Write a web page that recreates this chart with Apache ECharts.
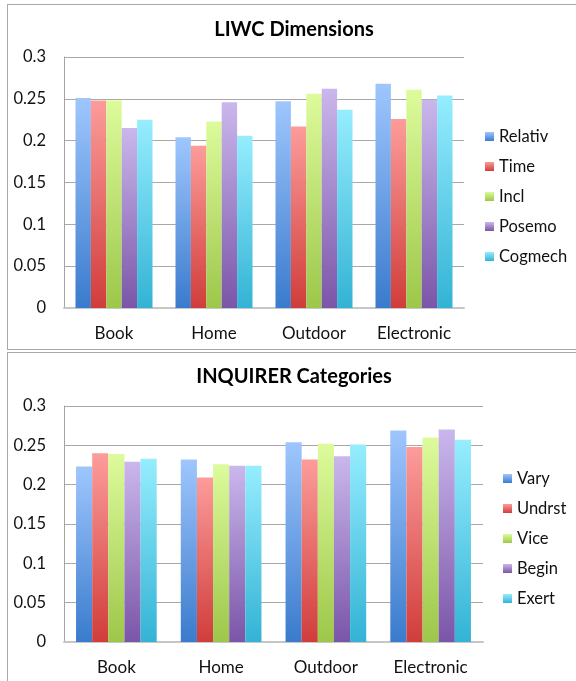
<!DOCTYPE html>
<html>
<head>
<meta charset="utf-8">
<script src="https://cdn.jsdelivr.net/npm/echarts@6/dist/echarts.min.js"></script>
<style>
  html, body { margin: 0; padding: 0; background: #fff; overflow: hidden; }
  .panel { position: absolute; border: 1px solid #a9a9a9; box-sizing: border-box; }
  #p1 { left: 7px; top: 4px; width: 600px; height: 346px; }
  #p2 { left: 7px; top: 352px; width: 600px; height: 360px; }
  #chart { position: absolute; left: 0; top: 0; width: 576px; height: 681px; }
</style>
</head>
<body>
<div class="panel" id="p1"></div>
<div class="panel" id="p2"></div>
<div id="chart"></div>
<script>
// Product categories shared by both panels
const categories = ['Book', 'Home', 'Outdoor', 'Electronic'];
const yTickLabels = ['0', '0.05', '0.1', '0.15', '0.2', '0.25', '0.3'];

// LIWC dimensions
const liwcTitle = 'LIWC Dimensions';
const liwcNames = ['Relativ', 'Time', 'Incl', 'Posemo', 'Cogmech'];
const relativ = [0.251, 0.204, 0.247, 0.268];
const time    = [0.248, 0.194, 0.217, 0.226];
const incl    = [0.248, 0.223, 0.256, 0.261];
const posemo  = [0.215, 0.246, 0.262, 0.249];
const cogmech = [0.225, 0.206, 0.237, 0.254];

// INQUIRER categories
const inqTitle = 'INQUIRER Categories';
const inqNames = ['Vary', 'Undrst', 'Vice', 'Begin', 'Exert'];
const vary   = [0.223, 0.232, 0.254, 0.269];
const undrst = [0.240, 0.209, 0.232, 0.248];
const vice   = [0.239, 0.226, 0.252, 0.260];
const begin  = [0.229, 0.224, 0.236, 0.270];
const exert  = [0.233, 0.224, 0.251, 0.257];

// Light-to-dark vertical fills, one per series position
const fills = [
  ['#9fc6fd', '#3a7bcd'],
  ['#fc9c9a', '#d03d3b'],
  ['#ddfb9b', '#9dc74a'],
  ['#cab7ec', '#7b55a8'],
  ['#96edfe', '#33b3d5']
];
const FONT = 'Lato, "Liberation Sans", sans-serif';

function gradient(i) {
  return new echarts.graphic.LinearGradient(0, 0, 0, 1, [
    { offset: 0, color: fills[i][0] },
    { offset: 1, color: fills[i][1] }
  ]);
}

function barSeries(names, values, axis) {
  return names.map((name, i) => ({
    type: 'bar',
    name: name,
    xAxisIndex: axis,
    yAxisIndex: axis,
    data: values[i],
    barGap: '0%',
    barCategoryGap: '23%',
    itemStyle: { color: gradient(i) },
    emphasis: { disabled: true }
  }));
}

function xAxis(grid) {
  return {
    type: 'category',
    gridIndex: grid,
    data: categories,
    axisLine: { show: true, lineStyle: { color: '#c6c6c6', width: 2 } },
    axisTick: { show: false },
    axisLabel: { fontSize: 17, color: '#111', margin: 17, fontFamily: FONT }
  };
}

function yAxis(grid) {
  return {
    type: 'value',
    gridIndex: grid,
    min: 0,
    max: 0.3,
    interval: 0.05,
    axisLine: { show: true, lineStyle: { color: '#a4a4a4', width: 1 } },
    axisTick: { show: false },
    splitLine: { lineStyle: { color: '#a8a8a8', width: 1 } },
    axisLabel: {
      fontSize: 16.5, color: '#111', margin: 18, fontFamily: FONT,
      formatter: (v) => yTickLabels[Math.round(v / 0.05)]
    }
  };
}

function legend(names, left, top) {
  return {
    orient: 'vertical',
    left: left,
    top: top,
    padding: 0,
    data: names,
    icon: 'rect',
    itemWidth: 9,
    itemHeight: 9,
    itemGap: 13,
    selectedMode: false,
    textStyle: { fontSize: 16.5, lineHeight: 17, color: '#111', fontFamily: FONT, padding: [0, 0, 0, 0] }
  };
}

const chart = echarts.init(document.getElementById('chart'), null, { renderer: 'canvas' });
chart.setOption({
  animation: false,
  backgroundColor: 'transparent',
  title: [
    { text: liwcTitle, left: 294, top: 20, padding: 0, textAlign: 'center',
      textStyle: { fontSize: 20, fontWeight: 'bold', color: '#000', fontFamily: FONT } },
    { text: inqTitle, left: 294, top: 367, padding: 0, textAlign: 'center',
      textStyle: { fontSize: 20, fontWeight: 'bold', color: '#000', fontFamily: FONT } }
  ],
  legend: [
    legend(liwcNames, 485, 128),
    legend(inqNames, 503, 470)
  ],
  grid: [
    { left: 64, top: 57, width: 400, height: 251 },
    { left: 64, top: 406, width: 419, height: 236 }
  ],
  xAxis: [xAxis(0), xAxis(1)],
  yAxis: [yAxis(0), yAxis(1)],
  series: [
    ...barSeries(liwcNames, [relativ, time, incl, posemo, cogmech], 0),
    ...barSeries(inqNames, [vary, undrst, vice, begin, exert], 1)
  ]
});
</script>
</body>
</html>
